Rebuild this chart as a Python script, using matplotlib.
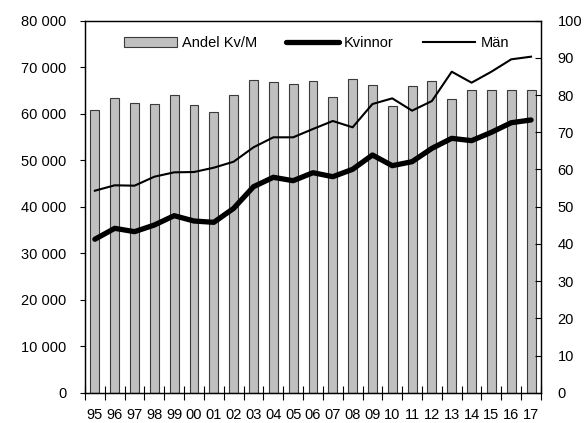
import numpy as np
import matplotlib
matplotlib.use("Agg")
import matplotlib.pyplot as plt
from matplotlib.ticker import FixedLocator

plt.rcParams['font.family'] = ['Liberation Sans', 'DejaVu Sans']

years = ["95", "96", "97", "98", "99", "00", "01", "02", "03", "04", "05", "06",
         "07", "08", "09", "10", "11", "12", "13", "14", "15", "16", "17"]

# Andel Kv/M (right axis, %)
andel = [76, 79.3, 77.8, 77.6, 80.1, 77.4, 75.5, 80, 84.1, 83.5, 83.1, 83.7,
         79.5, 84.2, 82.6, 77.2, 82.4, 83.9, 79, 81.3, 81.3, 81.3, 81.3]
# Kvinnor / Män (left axis)
kvinnor = [33000, 35350, 34630, 36060, 38070, 36920, 36640, 39650, 44300, 46320,
           45590, 47310, 46450, 48040, 51120, 48820, 49680, 52550, 54700, 54200,
           56000, 58060, 58650]
man = [43440, 44600, 44520, 46450, 47390, 47460, 48390, 49680, 52770, 54920,
       54920, 56710, 58430, 57070, 62080, 63300, 60650, 62730, 69030, 66670,
       69030, 71690, 72260]

left_ticks = [0, 10000, 20000, 30000, 40000, 50000, 60000, 70000, 80000]
left_labels = ["0", "10 000", "20 000", "30 000", "40 000", "50 000",
               "60 000", "70 000", "80 000"]
right_ticks = [0, 10, 20, 30, 40, 50, 60, 70, 80, 90, 100]

fig = plt.figure(figsize=(5.84, 4.23), dpi=100)
ax = fig.add_axes([0.1455, 0.0716, 0.7808, 0.8795])
ax2 = ax.twinx()
ax.set_zorder(ax2.get_zorder() + 1)
ax.patch.set_visible(False)

x = np.arange(len(years))
bars = ax2.bar(x, andel, width=0.45, color="#c0c0c0", edgecolor="#3a3a3a",
               linewidth=0.8, label="Andel Kv/M")
l1, = ax.plot(x, kvinnor, color="black", lw=3.8, solid_joinstyle="round",
              solid_capstyle="round", label="Kvinnor")
l2, = ax.plot(x, man, color="black", lw=1.5, label="Män")

ax.set_xlim(-0.5, len(years) - 0.5)
ax.set_ylim(0, 80000)
ax2.set_ylim(0, 100)

fs = 10.5
ax.set_yticks(left_ticks)
ax.set_yticklabels(left_labels, fontsize=fs)
ax.tick_params(axis="y", direction="out", length=3.5, width=0.8, pad=10)

ax2.set_yticks(right_ticks)
ax2.tick_params(axis="y", direction="in", length=4, width=0.8, pad=12,
                labelsize=fs)

ax.set_xticks(x)
ax.set_xticklabels(years, fontsize=fs)
ax.tick_params(axis="x", which="major", length=0, pad=11)
ax.xaxis.set_minor_locator(FixedLocator(np.arange(-0.5, len(years), 1.0)))
ax.tick_params(axis="x", which="minor", direction="inout", length=10, width=0.8)

for a in (ax, ax2):
    for s in a.spines.values():
        s.set_linewidth(0.9)

ax.legend([bars, l1, l2], ["Andel Kv/M", "Kvinnor", "Män"], ncol=3,
          loc="center", bbox_to_anchor=(0.508, 0.94), frameon=False,
          fontsize=fs, handlelength=3.6, handletextpad=0.35, columnspacing=2.0,
          handleheight=0.7)

fig.savefig("out.png", dpi=100)
